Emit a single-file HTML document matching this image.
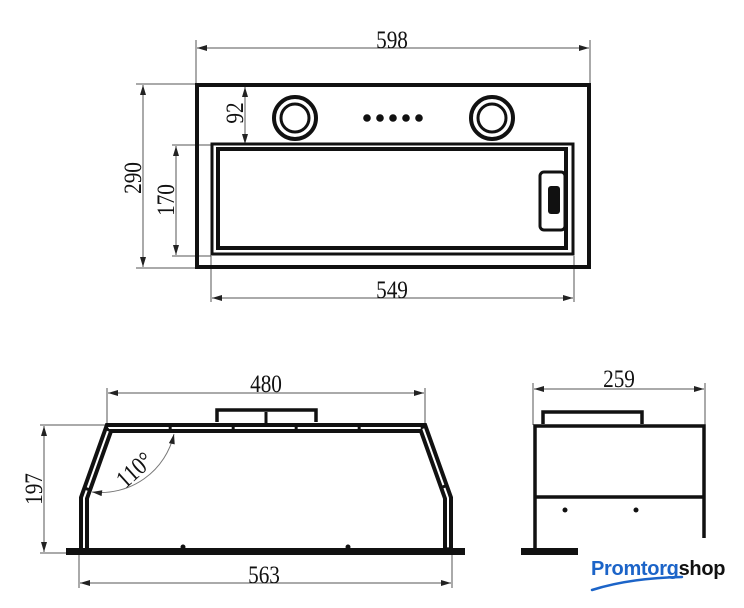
<!DOCTYPE html>
<html><head><meta charset="utf-8"><style>
html,body{margin:0;padding:0;background:#fff;}
svg{display:block}
.d{font-family:"Liberation Serif",serif;fill:#111;font-size:25px}
</style></head><body>
<svg width="744" height="608" viewBox="0 0 744 608" xmlns="http://www.w3.org/2000/svg">
<defs>
<marker id="a" viewBox="0 0 10 6" refX="10" refY="3" markerWidth="14" markerHeight="6" markerUnits="userSpaceOnUse" orient="auto-start-reverse"><path d="M0,0L10,3L0,6z" fill="#222"/></marker>
</defs>
<g stroke="#555" stroke-width="1" fill="none">
<line x1="196" y1="40" x2="196" y2="84"/><line x1="590" y1="40" x2="590" y2="84"/>
<line x1="197" y1="48" x2="589" y2="48" marker-start="url(#a)" marker-end="url(#a)"/>
<line x1="136" y1="84" x2="196" y2="84"/><line x1="136" y1="268" x2="196" y2="268"/>
<line x1="143" y1="85" x2="143" y2="267" marker-start="url(#a)" marker-end="url(#a)"/>
<line x1="172" y1="145" x2="211" y2="145"/><line x1="172" y1="256" x2="211" y2="256"/>
<line x1="176" y1="146" x2="176" y2="255" marker-start="url(#a)" marker-end="url(#a)"/>
<line x1="245" y1="87" x2="245" y2="144" marker-start="url(#a)" marker-end="url(#a)"/>
<line x1="211" y1="256" x2="211" y2="302"/><line x1="574" y1="256" x2="574" y2="302"/>
<line x1="212" y1="298" x2="573" y2="298" marker-start="url(#a)" marker-end="url(#a)"/>
<line x1="107" y1="388" x2="107" y2="424"/><line x1="425" y1="388" x2="425" y2="424"/>
<line x1="108" y1="393" x2="424" y2="393" marker-start="url(#a)" marker-end="url(#a)"/>
<line x1="40" y1="425" x2="107" y2="425"/><line x1="40" y1="553" x2="66" y2="553"/>
<line x1="44" y1="426" x2="44" y2="552" marker-start="url(#a)" marker-end="url(#a)"/>
<line x1="79" y1="555" x2="79" y2="588"/><line x1="452" y1="555" x2="452" y2="588"/>
<line x1="80" y1="583" x2="451" y2="583" marker-start="url(#a)" marker-end="url(#a)"/>
<path d="M174,434 A75,75 0 0 1 92,492" marker-start="url(#a)" marker-end="url(#a)" stroke="#777"/>
<line x1="533" y1="383" x2="533" y2="425"/><line x1="705" y1="383" x2="705" y2="425"/>
<line x1="534" y1="389" x2="704" y2="389" marker-start="url(#a)" marker-end="url(#a)"/>
</g>
<g fill="none" stroke="#111">
<rect x="197" y="85" width="392" height="182" stroke-width="4"/>
<rect x="212" y="144" width="361" height="110" stroke-width="3"/>
<rect x="218" y="149" width="348" height="99" stroke-width="4"/>
<rect x="540" y="172" width="25" height="58" rx="4" stroke-width="3"/>
<circle cx="295" cy="118" r="21" stroke-width="4"/><circle cx="295" cy="118" r="14" stroke-width="3"/>
<circle cx="492" cy="118" r="21" stroke-width="4"/><circle cx="492" cy="118" r="14" stroke-width="3"/>
</g>
<rect x="548" y="186" width="12" height="28" rx="3" fill="#111"/>
<g fill="#111"><circle cx="367" cy="118" r="3.8"/><circle cx="380" cy="118" r="3.8"/><circle cx="393" cy="118" r="3.8"/><circle cx="406" cy="118" r="3.8"/><circle cx="419" cy="118" r="3.8"/></g>
<path d="M217,422 V410 H316 V422" fill="none" stroke="#111" stroke-width="3.5"/>
<line x1="266" y1="412" x2="266" y2="430" stroke="#111" stroke-width="3"/>
<path d="M84,550 V498 L109,428 H423 L448,498 V550" fill="none" stroke="#111" stroke-width="10" stroke-linejoin="miter"/>
<path d="M84,550 V498 L109,428 H423 L448,498 V550" fill="none" stroke="#fff" stroke-width="2" stroke-dasharray="60 3"/>
<rect x="66" y="548" width="399" height="7" fill="#111"/>
<circle cx="183" cy="547" r="2.5" fill="#111"/><circle cx="348" cy="547" r="2.5" fill="#111"/>
<path d="M543,424 V412 H642 V424" fill="none" stroke="#111" stroke-width="3.5"/>
<path d="M535,553 V426 H704 V540" fill="none" stroke="#111" stroke-width="3.5"/>
<line x1="535" y1="497" x2="704" y2="497" stroke="#111" stroke-width="3.5"/>
<rect x="521" y="548" width="60" height="7" fill="#111"/>
<circle cx="565" cy="510" r="2.5" fill="#111"/><circle cx="636" cy="510" r="2.5" fill="#111"/>
<g class="d" text-anchor="middle">
<text transform="translate(392,48) scale(0.85,1)">598</text>
<text transform="translate(392,298) scale(0.85,1)">549</text>
<text transform="translate(141,178) rotate(-90) scale(0.85,1)">290</text>
<text transform="translate(174,200) rotate(-90) scale(0.85,1)">170</text>
<text transform="translate(243,113) rotate(-90) scale(0.85,1)">92</text>
<text transform="translate(266,392) scale(0.85,1)">480</text>
<text transform="translate(264,583) scale(0.85,1)">563</text>
<text transform="translate(42,489) rotate(-90) scale(0.85,1)">197</text>
<text transform="translate(619,387) scale(0.85,1)">259</text>
<text transform="translate(140,476) rotate(-42) scale(0.85,1)">110°</text>
</g>
<rect x="578" y="538" width="166" height="70" fill="#fff"/>
<text x="591" y="575" style="font-family:'Liberation Sans',sans-serif;font-size:20px;font-weight:bold;fill:#1c64c8;letter-spacing:-0.3px">Promtorg<tspan style="fill:#111">shop</tspan></text>
<path d="M592,590 Q630,578 682,577" fill="none" stroke="#1c64c8" stroke-width="2.5" stroke-linecap="round"/>
</svg>
</body></html>
